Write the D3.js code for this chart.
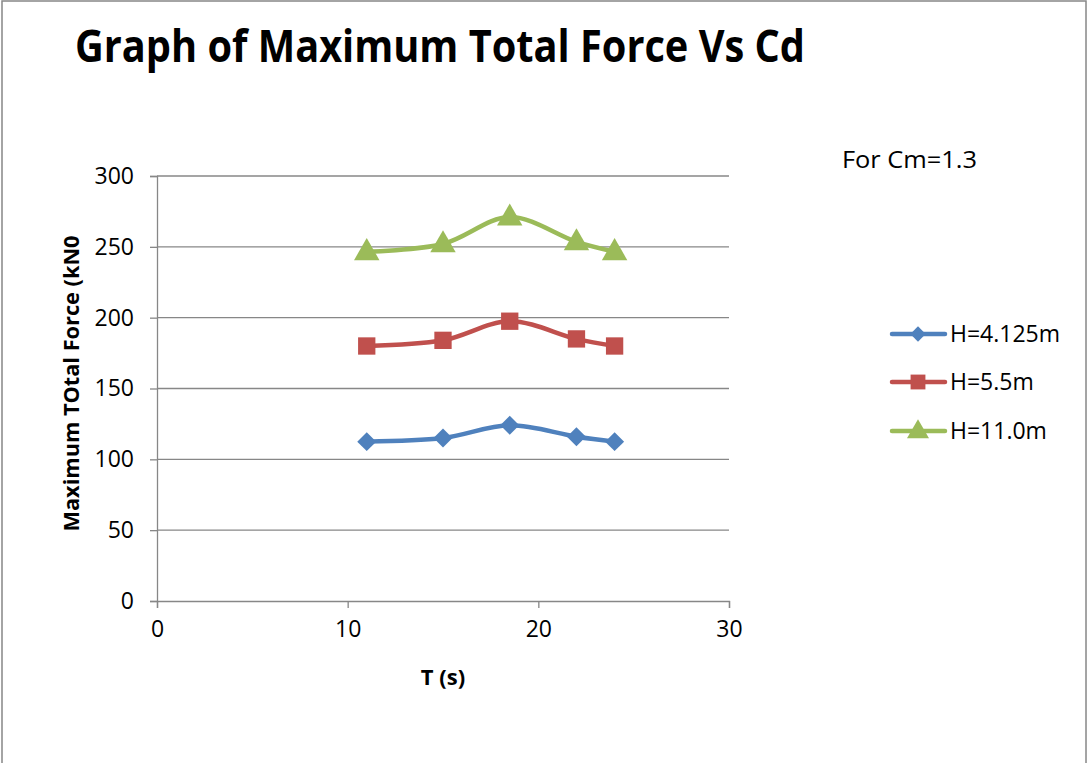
<!DOCTYPE html>
<html>
<head>
<meta charset="utf-8">
<script src="https://cdn.jsdelivr.net/npm/d3@7"></script>
<style>
  html, body { margin: 0; padding: 0; background: #fff; }
  svg { display: block; }
  text { font-family: "Open Sans", "Liberation Sans", sans-serif; }
</style>
</head>
<body>
<svg id="chart" width="1088" height="763"></svg>
<script>
// Wave period T (s)
const periods = [11, 15, 18.5, 22, 24];
// Maximum total force (kN) per wave height
const forceH4125 = [112.5, 115, 124, 116, 112.5];
const forceH55 = [180, 184, 197.5, 185, 180];
const forceH110 = [246.5, 252, 271, 253.5, 246.5];
const seriesNames = ["H=4.125m", "H=5.5m", "H=11.0m"];
const seriesColors = ["#4F81BD", "#C0504D", "#9BBB59"];
const seriesSymbols = [d3.symbolDiamond2, d3.symbolSquare, d3.symbolTriangle];
const xTicks = [0, 10, 20, 30];
const yTicks = [0, 50, 100, 150, 200, 250, 300];

const seriesValues = [forceH4125, forceH55, forceH110];

const svg = d3.select("#chart");

// outer frame
svg.append("rect")
  .attr("x", 2).attr("y", 1).attr("width", 1084).attr("height", 800)
  .attr("fill", "none").attr("stroke", "#878787").attr("stroke-width", 1.5);

const plot = { left: 157, right: 729, top: 176, bottom: 601 };
const x = d3.scaleLinear().domain([0, 30]).range([plot.left, plot.right]);
const y = d3.scaleLinear().domain([0, 300]).range([plot.bottom, plot.top]);

// horizontal gridlines
svg.append("g")
  .selectAll("line")
  .data(yTicks.filter(t => t > 0))
  .join("line")
  .attr("x1", plot.left).attr("x2", plot.right)
  .attr("y1", d => y(d)).attr("y2", d => y(d))
  .attr("stroke", "#878787").attr("stroke-width", 1.3);

// y axis
const yAxis = svg.append("g")
  .attr("transform", `translate(${plot.left},0)`)
  .call(d3.axisLeft(y).tickValues(yTicks).tickSize(7).tickPadding(16));
// x axis
const xAxis = svg.append("g")
  .attr("transform", `translate(0,${plot.bottom})`)
  .call(d3.axisBottom(x).tickValues(xTicks).tickSize(7).tickPadding(13));

[yAxis, xAxis].forEach(ax => {
  ax.select(".domain").attr("stroke", "#878787").attr("stroke-width", 1.3);
  ax.selectAll(".tick line").attr("stroke", "#878787").attr("stroke-width", 1.3);
  ax.selectAll(".tick text")
    .attr("fill", "#000")
    .style("font-family", "'Open Sans', sans-serif")
    .style("font-size", "23px");
});

// series lines (smoothed) and markers
const line = d3.line()
  .x((d, i) => x(periods[i]))
  .y(d => y(d))
  .curve(d3.curveCatmullRom.alpha(0.5));

const markerSizes = [230, 300, 280];

seriesValues.forEach((vals, s) => {
  svg.append("path")
    .datum(vals)
    .attr("d", line)
    .attr("fill", "none")
    .attr("stroke", seriesColors[s])
    .attr("stroke-width", 4.5)
    .attr("stroke-linejoin", "round")
    .attr("stroke-linecap", "round");

  svg.append("g")
    .selectAll("path")
    .data(vals)
    .join("path")
    .attr("d", d3.symbol().type(seriesSymbols[s]).size(markerSizes[s]))
    .attr("transform", (d, i) => {
      const dy = s === 2 ? 1 : 0;
      return `translate(${x(periods[i])},${y(d) + dy})`;
    })
    .attr("fill", seriesColors[s]);
});

// title
svg.append("text")
  .attr("x", 75).attr("y", 62)
  .attr("textLength", 730).attr("lengthAdjust", "spacingAndGlyphs")
  .style("font-size", "44px").style("font-weight", "bold")
  .text("Graph of Maximum Total Force Vs Cd");

// axis titles
svg.append("text")
  .attr("x", x(15)).attr("y", 685)
  .attr("text-anchor", "middle")
  .style("font-size", "22px").style("font-weight", "bold")
  .text("T (s)");

svg.append("text")
  .attr("transform", `translate(79,${(plot.top + plot.bottom) / 2 - 5}) rotate(-90)`)
  .attr("text-anchor", "middle")
  .attr("textLength", 296).attr("lengthAdjust", "spacingAndGlyphs")
  .style("font-size", "22px").style("font-weight", "bold")
  .text("Maximum TOtal Force (kN0");

// annotation
svg.append("text")
  .attr("x", 842).attr("y", 168)
  .attr("textLength", 135).attr("lengthAdjust", "spacingAndGlyphs")
  .style("font-size", "24px")
  .text("For Cm=1.3");

// legend
const legendY = [334, 382, 431];
const legendSizes = [150, 220, 210];
seriesNames.forEach((name, s) => {
  const g = svg.append("g").attr("transform", `translate(0,${legendY[s]})`);
  g.append("line")
    .attr("x1", 892).attr("x2", 945).attr("y1", 0).attr("y2", 0)
    .attr("stroke", seriesColors[s]).attr("stroke-width", 4.5)
    .attr("stroke-linecap", "round");
  g.append("path")
    .attr("d", d3.symbol().type(seriesSymbols[s]).size(legendSizes[s]))
    .attr("transform", `translate(918,${s === 2 ? 1 : 0})`)
    .attr("fill", seriesColors[s]);
  g.append("text")
    .attr("x", 950).attr("y", 8)
    .style("font-size", "23px")
    .text(name);
});
</script>
</body>
</html>
